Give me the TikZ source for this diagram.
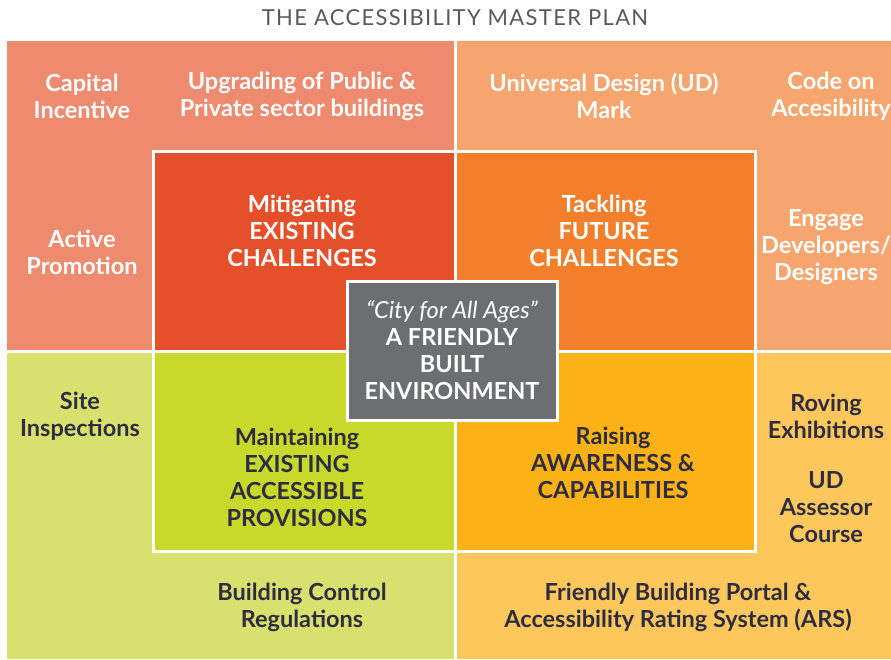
\documentclass[tikz,border=0pt]{standalone}
\usepackage{fontspec}
\setmainfont{Lato}
\usepackage{xcolor}
\usetikzlibrary{positioning}

\definecolor{salmon}{HTML}{EE8A6E}
\definecolor{redorange}{HTML}{E5502A}
\definecolor{peach}{HTML}{F5A56D}
\definecolor{orange}{HTML}{F47F2A}
\definecolor{lime}{HTML}{D9E16E}
\definecolor{limedark}{HTML}{C8D92B}
\definecolor{sand}{HTML}{FDC75C}
\definecolor{amber}{HTML}{FBB217}
\definecolor{slate}{HTML}{6D6E71}
\definecolor{titlegray}{HTML}{58595B}
\definecolor{ink}{HTML}{2E2D3F}

\tikzset{
	cell/.style={align=center, font=\bfseries\fontsize{23.5}{27}\selectfont},
	light/.style={cell, text=white},
	dark/.style={cell, text=ink},
	divider/.style={draw=white, line width=3pt}
}

\begin{document}
\begin{tikzpicture}[x=1pt,y=-1pt]
	\useasboundingbox (0,0) rectangle (891,659);
	\clip (0,0) rectangle (891,659);
	%
	%  QUADRANTS
	%
	\fill[salmon] (7,41) rectangle (455,351);
	\fill[peach] (455,41) rectangle (891,351);
	\fill[lime] (7,351) rectangle (455,659);
	\fill[sand] (455,351) rectangle (891,659);
	\fill[redorange] (153,151) rectangle (455,351);
	\fill[orange] (455,151) rectangle (755,351);
	\fill[limedark] (153,351) rectangle (455,551);
	\fill[amber] (455,351) rectangle (755,551);
	\draw[divider] (455,41) -- (455,659);
	\draw[divider] (7,351) -- (891,351);
	\draw[divider] (153,151) rectangle (755,551);
	%
	\node[text=titlegray, font=\fontsize{22}{24}\selectfont\addfontfeature{LetterSpace=6}] (title) at (455,18) {THE ACCESSIBILITY MASTER PLAN};
	%
	%  OUTER RING
	%
	\node[light] (capital) at (82,96) {Capital\\Incentive};
	\node[light] (upgrade) at (302,96) {Upgrading of Public \&\\Private sector buildings};
	\node[light] (udmark) at (604,96) {Universal Design (UD)\\Mark};
	\node[light] (code) at (831,96) {Code on\\Accesibility};
	\node[light] (active) at (82,252) {Active\\Promotion};
	\node[light] (engage) at (826,247) {Engage\\Developers/\\Designers};
	\node[dark] (site) at (80,416) {Site\\Inspections};
	\node[dark] (roving) at (826,416) {Roving\\Exhibitions};
	\node[dark] (assessor) at (826,507) {UD\\Assessor\\Course};
	\node[dark] (bcr) at (302,607) {Building Control\\Regulations};
	\node[dark] (portal) at (678,607) {Friendly Building Portal \&\\Accessibility Rating System (ARS)};
	%
	%  INNER SQUARE
	%
	\node[light] (mitigate) at (302,231) {Mitigating\\EXISTING\\CHALLENGES};
	\node[light] (tackle) at (604,231) {Tackling\\FUTURE\\CHALLENGES};
	\node[dark] (maintain) at (297,477) {Maintaining\\EXISTING\\ACCESSIBLE\\PROVISIONS};
	\node[dark] (raise) at (613,463) {Raising\\AWARENESS \&\\CAPABILITIES};
	%
	\node[light, fill=slate, draw=white, line width=3pt, minimum width=210pt, minimum height=139pt, inner sep=0pt] (core) at (452,350.5)
		{{\normalfont\itshape\fontsize{23.5}{27}\selectfont ``City for All Ages''}\\A FRIENDLY\\BUILT\\ENVIRONMENT};
\end{tikzpicture}
\end{document}
